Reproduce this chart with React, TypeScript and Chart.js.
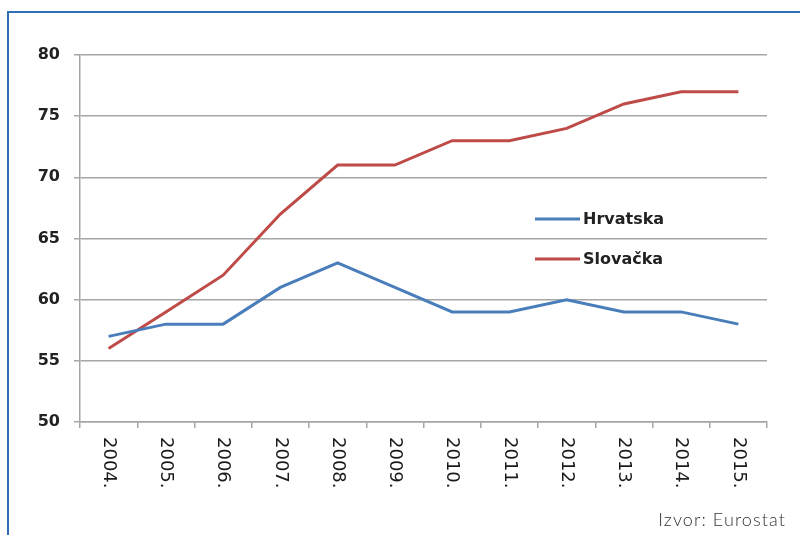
import React, { useEffect, useRef } from "react";
import { Chart, registerables } from "chart.js";

Chart.register(...registerables);

const years = ["2004.", "2005.", "2006.", "2007.", "2008.", "2009.", "2010.", "2011.", "2012.", "2013.", "2014.", "2015."];
const hrvatska = [57, 58, 58, 61, 63, 61, 59, 59, 60, 59, 59, 58];
const slovacka = [56, 59, 62, 67, 71, 71, 73, 73, 74, 76, 77, 77];
const seriesNames = ["Hrvatska", "Slovačka"];
const seriesColors = ["#4a7ebb", "#be4b48"];
const sourceText = "Izvor: Eurostat";

const GRID = "#a6a6a6";

const xLabelsPlugin = {
  id: "xLabelsRotated",
  afterDraw(chart: any) {
    const { ctx, scales } = chart;
    const x = scales.x;
    const top = chart.chartArea.bottom + 15;
    ctx.save();
    ctx.fillStyle = "#1a1a1a";
    ctx.font = "18px 'DejaVu Sans'";
    ctx.textAlign = "left";
    ctx.textBaseline = "middle";
    years.forEach((lab, i) => {
      const px = x.getPixelForValue(i);
      ctx.save();
      ctx.translate(px, top);
      ctx.rotate(Math.PI / 2);
      ctx.fillText(lab, 0, 0);
      ctx.restore();
    });
    ctx.restore();
  },
};

const legendPlugin = {
  id: "innerLegend",
  afterDraw(chart: any) {
    const { ctx } = chart;
    const ys = [219, 259];
    ctx.save();
    ctx.font = "bold 16px 'DejaVu Sans'";
    ctx.textBaseline = "middle";
    ctx.textAlign = "left";
    seriesNames.forEach((name, i) => {
      ctx.strokeStyle = seriesColors[i];
      ctx.lineWidth = 3;
      ctx.beginPath();
      ctx.moveTo(535, ys[i]);
      ctx.lineTo(580, ys[i]);
      ctx.stroke();
      ctx.fillStyle = "#222";
      ctx.fillText(name, 583, ys[i] + 1);
    });
    ctx.restore();
  },
};

export default function App() {
  const ref = useRef<HTMLCanvasElement>(null);

  useEffect(() => {
    if (!ref.current) return;
    const chart = new Chart(ref.current, {
      type: "line",
      data: {
        labels: years,
        datasets: [
          {
            label: seriesNames[0],
            data: hrvatska,
            borderColor: seriesColors[0],
            backgroundColor: seriesColors[0],
            borderWidth: 3,
            pointRadius: 0,
            tension: 0,
          },
          {
            label: seriesNames[1],
            data: slovacka,
            borderColor: seriesColors[1],
            backgroundColor: seriesColors[1],
            borderWidth: 3,
            pointRadius: 0,
            tension: 0,
          },
        ],
      },
      options: {
        responsive: false,
        animation: false,
        layout: { padding: { left: 0, right: 33, top: 55, bottom: 0 } },
        plugins: {
          legend: { display: false },
          tooltip: { enabled: false },
        },
        scales: {
          x: {
            type: "category",
            offset: true,
            grid: {
              offset: true,
              drawOnChartArea: false,
              drawTicks: true,
              tickLength: 6,
              color: GRID,
              lineWidth: 1.5,
            },
            border: { color: GRID, width: 1.5 },
            ticks: { display: false },
            afterFit(scale: any) {
              scale.height = 113;
            },
          },
          y: {
            min: 50,
            max: 80,
            ticks: {
              stepSize: 5,
              color: "#222",
              font: { family: "'DejaVu Sans'", size: 16, weight: "bold" },
              padding: 14,
            },
            grid: {
              color: GRID,
              lineWidth: 1.5,
              tickLength: 6,
              drawTicks: true,
            },
            border: { color: GRID, width: 1.5 },
            afterFit(scale: any) {
              scale.width = 80;
            },
          },
        },
      },
      plugins: [xLabelsPlugin, legendPlugin],
    });
    return () => chart.destroy();
  }, []);

  return (
    <div style={{ position: "fixed", left: 0, top: 0, width: 800, height: 535, background: "#fff", overflow: "hidden" }}>
      <div
        style={{
          position: "absolute",
          left: 7,
          top: 11,
          width: 820,
          height: 560,
          borderLeft: "2px solid #2f6db5",
          borderTop: "2px solid #2f6db5",
        }}
      />
      <canvas ref={ref} width={800} height={535} style={{ position: "absolute", left: 0, top: 0 }} />
      <div
        style={{
          position: "absolute",
          right: 14,
          top: 508,
          fontFamily: "Lato, 'DejaVu Sans', sans-serif",
          fontWeight: 300,
          fontSize: 18,
          letterSpacing: "1.1px",
          color: "#333",
          whiteSpace: "nowrap",
        }}
      >
        {sourceText}
      </div>
    </div>
  );
}
